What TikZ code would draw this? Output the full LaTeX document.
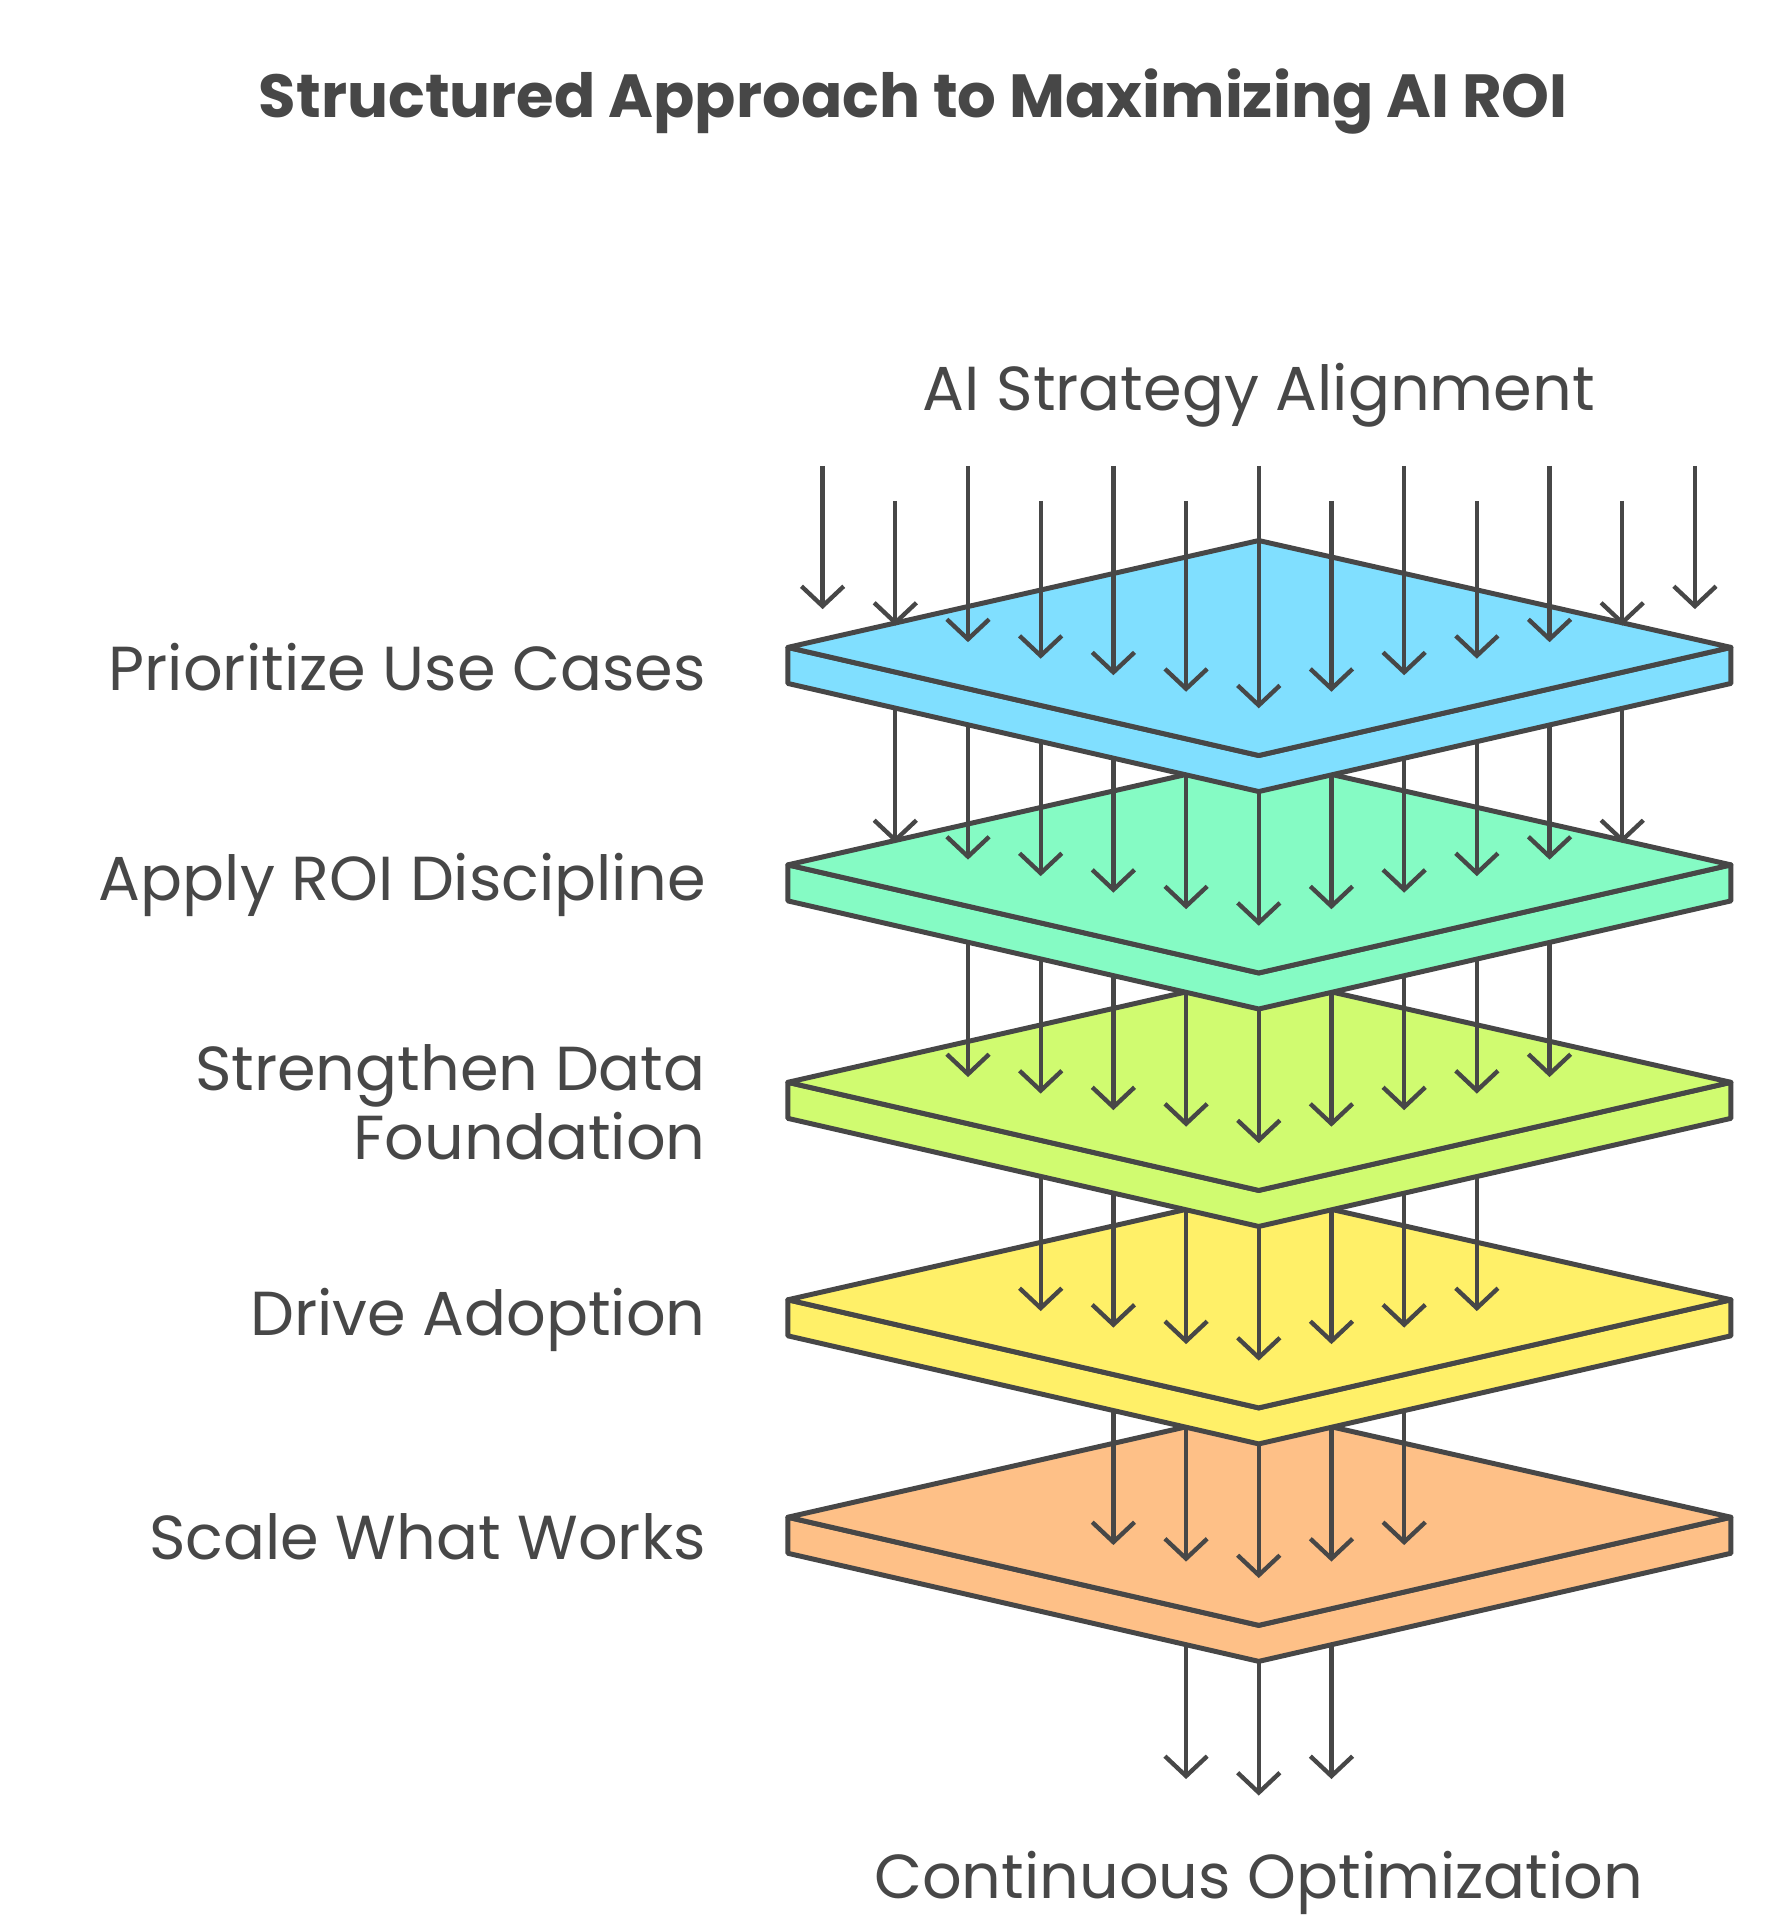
\documentclass[tikz,border=0pt]{standalone}
\usepackage{fontspec}
\setmainfont{Poppins}
\usetikzlibrary{arrows.meta}
\definecolor{ink}{HTML}{474747}
\definecolor{cA}{HTML}{80DFFF}
\definecolor{cB}{HTML}{85FBC4}
\definecolor{cC}{HTML}{D0FB70}
\definecolor{cD}{HTML}{FFF068}
\definecolor{cE}{HTML}{FEC087}
\tikzset{
  plate/.style={draw=ink,line width=4pt,line join=round,fill=#1},
  arr/.style={draw=ink,line width=3.5pt,-{Straight Barb[length=16pt,width=34pt,line width=3.5pt]}},
  lbl/.style={text=ink,font=\fontsize{50}{56}\selectfont,inner sep=0pt},
}
\newcommand\myplate[3]{%
  \path[plate=#2] (634,#1+86) -- (1013,#1+173) -- (1393,#1+86) -- (1393,#1+115) -- (1013,#1+202) -- (634,#1+115) -- cycle;
  \path[plate=#2] (1013,#1) -- (1393,#1+86) -- (1013,#1+173) -- (634,#1+86) -- cycle;
  \coordinate (#3) at (1013,#1);}
\newcommand\myarrows[3]{%
  \foreach \k in {-#1,...,#1}{%
    \pgfmathsetmacro\ey{#3-13.3*abs(\k)}%
    \coordinate (s\k) at (1013+58.5*\k,#2);
    \coordinate (e\k) at (1013+58.5*\k,\ey);
    \draw[arr] (s\k) -- (e\k);}}
\begin{document}
\begin{tikzpicture}[x=1pt,y=-1pt]
\useasboundingbox (0,0) rectangle (1440,1554);
\node[lbl,font=\bfseries\fontsize{49}{56}\selectfont] (title) at (735,82) {Structured Approach to Maximizing AI ROI};
\node[lbl] (top) at (1013,318) {AI Strategy Alignment};
\node[lbl] (bot) at (1013,1515) {Continuous Optimization};
\node[lbl,anchor=east] (l1) at (568,537) {Prioritize Use Cases};
\node[lbl,anchor=east] (l2) at (568,712) {Apply ROI Discipline};
\node[lbl,anchor=east,align=right] (l3) at (568,887) {Strengthen Data\\Foundation};
\node[lbl,anchor=east] (l4) at (568,1062) {Drive Adoption};
\node[lbl,anchor=east] (l5) at (568,1237) {Scale What Works};
\myarrows{1}{1250}{1445}
\myplate{1135}{cE}{p5}
\myarrows{2}{1075}{1270}
\myplate{960}{cD}{p4}
\myarrows{3}{900}{1095}
\myplate{785}{cC}{p3}
\myarrows{4}{725}{920}
\myplate{610}{cB}{p2}
\myarrows{5}{550}{745}
\myplate{435}{cA}{p1}
\foreach \k in {-6,...,6}{%
  \pgfmathsetmacro\ey{570-13.3*abs(\k)}%
  \pgfmathsetmacro\sy{isodd(\k)?403:375}%
  \coordinate (ts\k) at (1013+58.5*\k,\sy);
  \coordinate (te\k) at (1013+58.5*\k,\ey);
  \draw[arr] (ts\k) -- (te\k);}
\end{tikzpicture}
\end{document}
